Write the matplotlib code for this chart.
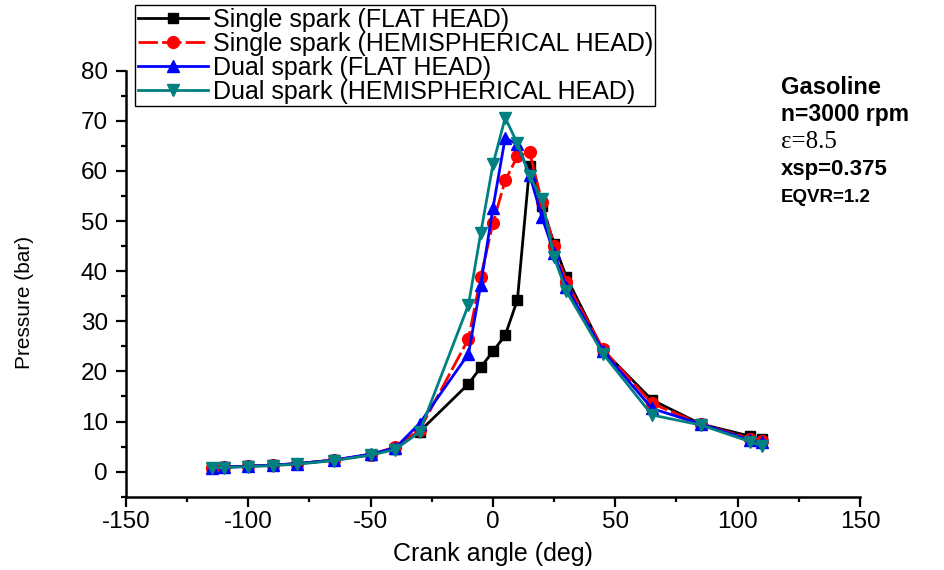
import matplotlib
matplotlib.use("Agg")
from matplotlib import pyplot as plt
from matplotlib.ticker import MultipleLocator

# crank angle (deg), same points for all four curves
crank = [-115, -110, -100, -90, -80, -65, -50, -40, -30, -10, -5, 0, 5,
         10, 15, 20, 25, 30, 45, 65, 85, 105, 110]

single_flat = [0.8, 0.9, 1.1, 1.3, 1.6, 2.3, 3.4, 4.6, 8.0, 17.5, 20.8, 24.0, 27.2,
               34.3, 61.0, 53.0, 45.5, 38.8, 24.2, 14.3, 9.5, 7.1, 6.6]
single_hemi = [0.8, 0.9, 1.1, 1.3, 1.6, 2.3, 3.4, 4.9, 8.3, 26.5, 38.8, 49.6, 58.1,
               62.9, 63.7, 53.8, 45.0, 37.8, 24.4, 13.6, 9.5, 6.6, 6.2]
dual_flat = [0.8, 0.9, 1.1, 1.3, 1.6, 2.3, 3.5, 4.7, 9.6, 23.5, 37.3, 52.6, 66.6,
             65.3, 59.2, 50.8, 43.6, 36.8, 24.0, 12.6, 9.5, 6.3, 5.9]
dual_hemi = [0.8, 0.8, 1.0, 1.2, 1.5, 2.2, 3.3, 4.4, 7.9, 33.3, 47.6, 61.3, 70.6,
             65.5, 59.0, 54.3, 42.8, 36.0, 23.5, 11.3, 9.3, 6.0, 5.1]

labels = ['Single spark (FLAT HEAD)', 'Single spark (HEMISPHERICAL HEAD)',
          'Dual spark (FLAT HEAD)', 'Dual spark (HEMISPHERICAL HEAD)']

plt.rcParams['font.family'] = ['Liberation Sans', 'DejaVu Sans']
plt.rcParams['axes.unicode_minus'] = False

fig = plt.figure(figsize=(9.45, 5.7), dpi=100)
ax = fig.add_axes([0.1333, 0.1286, 0.7767, 0.7474])

lw = 2.0
ax.plot(crank, single_flat, color='black', marker='s', ms=7, lw=lw, label=labels[0])
ax.plot(crank, single_hemi, color='#ff0000', marker='o', ms=8.5, lw=lw,
        dashes=(7, 1.5), label=labels[1])
ax.plot(crank, dual_flat, color='#0000ff', marker='^', ms=9, lw=lw, label=labels[2])
ax.plot(crank, dual_hemi, color='#008080', marker='v', ms=9, lw=lw, label=labels[3])

ax.set_xlim(-150, 150)
ax.set_ylim(-5, 80)
ax.xaxis.set_major_locator(MultipleLocator(50))
ax.xaxis.set_minor_locator(MultipleLocator(25))
ax.yaxis.set_major_locator(MultipleLocator(10))
ax.yaxis.set_minor_locator(MultipleLocator(5))

for s in ['top', 'right']:
    ax.spines[s].set_visible(False)
for s in ['left', 'bottom']:
    ax.spines[s].set_linewidth(1.8)
ax.tick_params(which='major', direction='out', length=7, width=1.6, labelsize=17.5)
ax.tick_params(axis='y', which='major', pad=6)
ax.tick_params(which='minor', direction='out', length=3.6, width=1.6)

ax.set_xlabel('Crank angle (deg)', fontsize=18)
ax.xaxis.set_label_coords(0.5, -0.106)
ax.set_ylabel('Pressure (bar)', fontsize=15)
ax.yaxis.set_label_coords(-0.125, 0.455)

leg = fig.legend(loc='upper left', bbox_to_anchor=(0.1429, 0.991), fontsize=18,
                 frameon=True, fancybox=False, edgecolor='black', framealpha=1,
                 handlelength=2.8, handletextpad=0.2, labelspacing=0.0,
                 borderpad=0.1, borderaxespad=0, numpoints=1)
leg.get_frame().set_linewidth(1.0)

# operating conditions
tx = 0.826
fig.text(tx, 1 - 88 / 570, 'Gasoline', fontsize=17, fontweight='bold', va='center')
fig.text(tx, 1 - 114 / 570, 'n=3000 rpm', fontsize=16.5, fontweight='bold', va='center')
fig.text(tx, 1 - 142 / 570, 'ε=8.5', fontsize=18, family='Liberation Serif', va='center')
fig.text(tx, 1 - 170 / 570, 'xsp=0.375', fontsize=16, fontweight='bold', va='center')
fig.text(tx, 1 - 198 / 570, 'EQVR=1.2', fontsize=13.5, fontweight='bold', va='center')

fig.savefig('out.png', dpi=100)
